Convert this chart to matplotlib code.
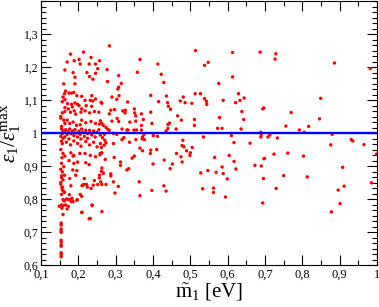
import matplotlib
matplotlib.use("Agg")
import matplotlib.pyplot as plt
from matplotlib.ticker import MultipleLocator, FuncFormatter, AutoMinorLocator

plt.rcParams['font.family'] = ['Liberation Serif', 'DejaVu Serif']
plt.rcParams['mathtext.fontset'] = 'custom'
plt.rcParams['mathtext.rm'] = 'Liberation Serif'
plt.rcParams['mathtext.it'] = 'Liberation Serif:italic'

# scatter points (m1_tilde [eV], eps/eps_max)
m1 = [
    # sparse region 0.26-0.65
    .283, .514, .613, .365, .548, .538, .413, .277, .358, .422, .308, .613, .278, .429, .315, .576,
    .308, .306, .513, .527, .629, .394, .436, .481, .290, .309, .303, .538, .473, .415, .486, .439,
    .504, .543, .588, .621, .544, .332, .263, .441, .447, .350, .287, .297, .319, .326, .325, .351,
    .354, .369, .394, .283, .466, .578, .304, .374, .476, .511, .290, .308, .338, .354, .397, .444,
    .440, .259, .263, .267, .369, .511, .573, .585, .274, .279, .283, .317, .330, .333, .349, .356,
    .369, .440, .462, .435, .294, .303, .270, .376, .401, .412, .372, .371, .377, .535, .610, .265,
    .271, .274, .269, .262, .317, .322, .337, .354, .480, .478, .483, .505, .365, .394, .294,
    # right region
    .687, .729, .727, .886, .982, .633, .644, .849, .694, .697, .770, .638, .643, .846, .756, .817,
    .792, .805, .636, .689, .690, .689, .713, .708, .733, .880, .931, .935, .965, .876, .617, .660,
    .499, .565, .604, .697, .724, .761, .803, .999,
    .617, .622, .599, .585, .588, .569, .547, .528, .533, .562, .562, .594, .673, .690, .699, .696,
    .694, .730, .750, .813, .878, .896, .901, .908, .912, .985,
    # middle-low region
    .198, .272, .258, .263, .263, .262, .267, .256, .260, .263, .274, .222, .224, .240, .210, .215,
    .237, .210, .229, .263, .298, .307, .294, .365, .363, .397, .429, .435, .330, .335, .344, .313,
    .313, .287, .287, .296, .185, .196, .197, .183, .181, .176, .149, .156, .170, .162, .169, .186,
    .350, .372, .393, .400, .410, .430, .446, .452, .463, .475, .478, .490, .500,
    # steep column near 0.15
    .155, .159, .162, .155, .159, .166, .173, .175, .182, .186, .196, .205, .209, .209, .232, .237,
    .159, .154, .154, .154, .154, .154, .154, .154, .154, .154, .154, .154, .154, .157, .160, .163,
    # dense upper-left
    .214, .179, .234, .170, .189, .202, .205, .229, .246, .257, .252, .164, .186, .223, .246, .230,
    .239, .191, .161, .191, .166, .163, .175, .182, .188, .196, .236, .209, .218, .232, .239, .246,
    .261, .159, .164, .157, .171, .182, .191, .198, .202, .164, .173, .184, .221, .236, .209,
    .157, .164, .179, .189, .193, .207, .218, .230, .243, .255,
    .161, .164, .170, .177, .186, .195, .205, .209, .220, .234, .246, .257,
    .155, .159, .157, .163, .166, .170, .173, .177, .180, .184, .188, .191, .195, .198, .202, .205,
    .209, .212, .216, .220, .225, .230, .236, .241, .245, .250, .255, .259, .159, .164, .175, .207,
    .225,
    .157, .168, .179, .188, .198, .207, .220, .230, .241, .250, .259,
    .159, .164, .180, .188, .204, .218, .232, .246, .259,
    .155, .161, .175, .188, .220, .229,
    .157, .163, .159, .177, .193, .216, .243, .257,
    .157, .180, .211, .234, .252,
    .153, .153, .155, .153, .155, .153, .156, .153, .155, .153, .156, .153, .155,
]
eps = [
    1.264, 1.250, 1.244, 1.223, 1.214, 1.205, 1.209, 1.192, 1.184, 1.178, 1.174, 1.170, 1.156, 1.153, 1.150, 1.150,
    1.139, 1.133, 1.119, 1.119, 1.119, 1.114, 1.112, 1.109, 1.109, 1.113, 1.102, 1.104, 1.097, 1.095, 1.092, 1.092,
    1.090, 1.096, 1.099, 1.092, 1.087, 1.094, 1.090, 1.081, 1.072, 1.073, 1.069, 1.071, 1.067, 1.069, 1.061, 1.061,
    1.052, 1.058, 1.063, 1.058, 1.052, 1.047, 1.044, 1.041, 1.039, 1.041, 1.036, 1.035, 1.033, 1.036, 1.029, 1.030,
    1.026, 1.037, 1.029, 1.023, 1.023, 1.023, 1.014, 1.014, 1.017, 1.011, 1.008, 1.012, 1.009, 1.009, 1.009, 1.009,
    1.009, 1.014, 1.012, 1.006, 0.999, 0.996, 0.996, 0.996, 0.992, 0.990, 0.988, 0.982, 0.980, 0.988, 0.992, 0.986,
    0.978, 0.970, 0.963, 0.956, 0.980, 0.986, 0.972, 0.980, 0.978, 0.962, 0.958, 0.956, 0.954, 0.948, 0.968,
    1.245, 1.240, 1.224, 1.212, 1.195, 1.099, 1.106, 1.105, 1.073, 1.076, 1.062, 1.065, 1.041, 1.043, 1.021, 1.020,
    1.009, 1.002, 1.012, 1.002, 0.996, 0.988, 0.994, 0.988, 0.985, 0.996, 0.980, 0.976, 0.965, 0.964, 0.971, 0.969,
    0.932, 0.926, 0.932, 0.922, 0.936, 0.939, 0.930, 0.936,
    0.914, 0.891, 0.861, 0.897, 0.877, 0.881, 0.886, 0.879, 0.831, 0.833, 0.820, 0.806, 0.902, 0.900, 0.923, 0.862,
    0.788, 0.832, 0.871, 0.867, 0.761, 0.827, 0.786, 0.896, 0.839, 0.849,
    0.912, 0.920, 0.934, 0.940, 0.894, 0.884, 0.878, 0.864, 0.852, 0.844, 0.844, 0.844, 0.836, 0.842, 0.840, 0.844,
    0.780, 0.760, 0.740, 0.762, 0.818, 0.838, 0.852, 0.810, 0.852, 0.826, 0.840, 0.824, 0.888, 0.892, 0.924, 0.912,
    0.902, 0.876, 0.870, 0.926, 0.888, 0.886, 0.798, 0.802, 0.792, 0.813, 0.778, 0.772, 0.770, 0.796, 0.800, 0.930,
    0.930, 0.946, 0.938, 0.906, 0.950, 0.918, 0.892, 0.906, 0.938, 0.928, 0.912, 0.946, 0.940,
    0.814, 0.798, 0.794, 0.782, 0.780, 0.782, 0.778, 0.798, 0.801, 0.792, 0.796, 0.814, 0.808, 0.759, 0.741, 0.782,
    0.753, 0.727, 0.721, 0.709, 0.703, 0.699, 0.675, 0.669, 0.661, 0.657, 0.637, 0.631, 0.625, 0.828, 0.824, 0.820,
    1.245, 1.239, 1.229, 1.215, 1.219, 1.223, 1.209, 1.209, 1.209, 1.219, 1.195, 1.191, 1.183, 1.183, 1.181, 1.171,
    1.163, 1.169, 1.149, 1.149, 1.127, 1.119, 1.121, 1.121, 1.123, 1.113, 1.113, 1.111, 1.099, 1.099, 1.097, 1.103,
    1.093, 1.109, 1.101, 1.095, 1.089, 1.087, 1.091, 1.087, 1.083, 1.077, 1.073, 1.079, 1.083, 1.081, 1.073,
    1.061, 1.065, 1.063, 1.067, 1.057, 1.063, 1.067, 1.061, 1.065, 1.063,
    1.039, 1.029, 1.039, 1.029, 1.033, 1.023, 1.025, 1.039, 1.031, 1.035, 1.029, 1.027,
    1.012, 1.006, 0.998, 1.002, 1.010, 0.996, 1.004, 1.012, 0.998, 1.006, 0.992, 1.010, 1.000, 0.988, 1.006, 0.996,
    1.012, 1.002, 0.990, 1.008, 0.998, 1.008, 0.994, 1.006, 0.988, 1.002, 1.010, 0.994, 0.984, 0.988, 0.982, 0.982,
    0.984,
    0.968, 0.972, 0.964, 0.976, 0.968, 0.960, 0.974, 0.964, 0.972, 0.958, 0.968,
    0.938, 0.930, 0.940, 0.932, 0.938, 0.938, 0.932, 0.928, 0.938,
    0.908, 0.898, 0.916, 0.908, 0.910, 0.904,
    0.882, 0.872, 0.858, 0.862, 0.872, 0.862, 0.856, 0.872,
    0.836, 0.840, 0.842, 0.832, 0.844,
    1.050, 1.045, 1.020, 0.990, 0.975, 0.950, 0.925, 0.890, 0.865, 0.850, 0.835, 0.845, 0.870,
]
ref_level = 1.0

xticks = [0.1, 0.2, 0.3, 0.4, 0.5, 0.6, 0.7, 0.8, 0.9, 1.0]
yticks = [0.6, 0.7, 0.8, 0.9, 1.0, 1.1, 1.2, 1.3]

fig = plt.figure(figsize=(3.79, 3.07), dpi=100)
ax = fig.add_axes([41/379, 42/307, 336/379, 264/307])

ax.scatter(m1, eps, s=6, color='red', edgecolors='none', zorder=3)
ax.axhline(ref_level, color='#0000ff', lw=1.7, zorder=4)

ax.set_xlim(0.1, 1.0)
ax.set_ylim(0.6, 1.4)
ax.set_xticks(xticks)
ax.set_yticks(yticks)
ax.xaxis.set_minor_locator(MultipleLocator(0.05))
ax.yaxis.set_minor_locator(AutoMinorLocator(6))

fmt = FuncFormatter(lambda v, p: ('%g' % round(v, 3)).replace('.', ','))
ax.xaxis.set_major_formatter(fmt)
ax.yaxis.set_major_formatter(fmt)

ax.tick_params(which='both', direction='in', top=True, right=True, labelsize=9, width=0.8)
ax.tick_params(axis='y', labelsize=8.5, pad=2)
ax.tick_params(which='major', length=7)
ax.tick_params(which='minor', length=3.5)
ax.tick_params(axis='x', pad=3)

ax.set_xlabel(r'$\tilde{\rm m}_1$ [eV]', fontsize=15, labelpad=0)
ax.set_ylabel(r'$\varepsilon_1/\varepsilon_1^{\rm max}$', fontsize=15.5)
ax.yaxis.set_label_coords(-0.053, 0.5)

fig.savefig('out.png', dpi=100)
